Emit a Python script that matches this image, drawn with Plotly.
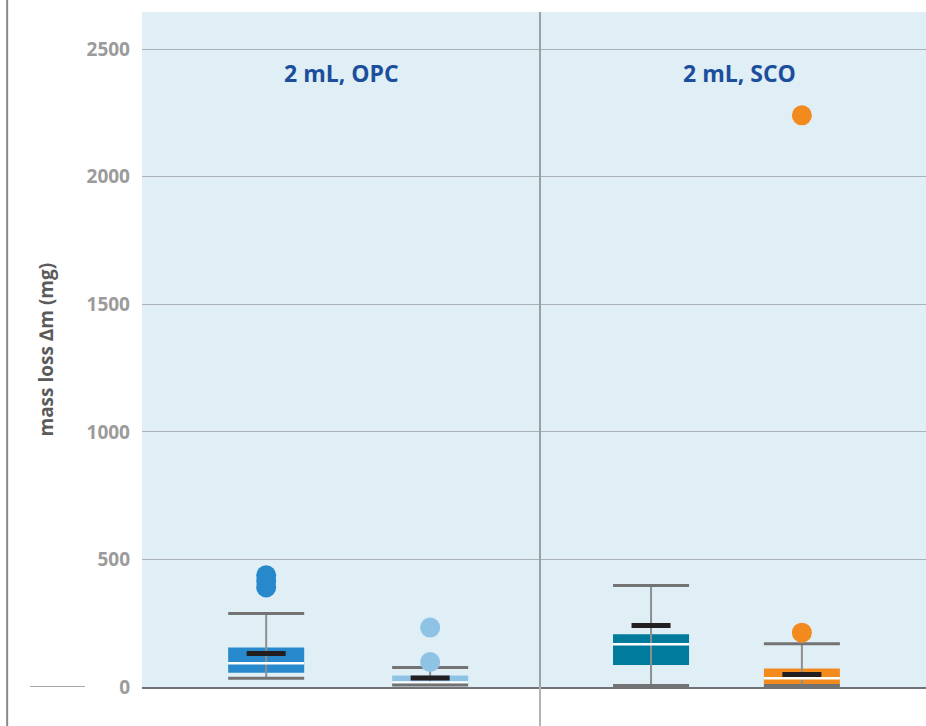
import plotly.graph_objects as go

# Mass loss per sample set, summarised as box statistics (mg)
panels = ["2 mL, OPC", "2 mL, SCO"]
series = ["OPC A", "OPC B", "SCO A", "SCO B"]
lower_whisker = [34, 8, 6, 6]
q1 = [56, 9, 86, 12]
median = [93, 18, 168, 34]
q3 = [155, 45, 207, 73]
upper_whisker = [288, 76, 398, 170]
mean = [131, 35, 241, 49]
outliers = [[438, 416, 390], [233, 98], [], [213, 2241]]

y_ticks = [0, 500, 1000, 1500, 2000, 2500]

# Layout constants (x measured in panel widths)
slot = [0.312, 0.724, 1.279, 1.658]
colors = ["#2789cc", "#8ec3e6", "#017b9b", "#f28a1e"]
box_w = 0.191
mean_w = 0.098

fig = go.Figure()

# Whisker stems
for i in range(len(series)):
    fig.add_trace(go.Scatter(
        x=[slot[i], slot[i]], y=[lower_whisker[i], upper_whisker[i]],
        mode="lines", line=dict(color="#8e8e8e", width=2),
        hoverinfo="skip", showlegend=False))

# Boxes (q1..q3)
fig.add_trace(go.Bar(
    x=slot, base=q1, y=[b - a for a, b in zip(q1, q3)],
    width=box_w, marker=dict(color=colors, line=dict(width=0)),
    showlegend=False, hoverinfo="skip"))

for i in range(len(series)):
    half = box_w / 2
    # median drawn as a gap in the box
    fig.add_trace(go.Scatter(
        x=[slot[i] - half, slot[i] + half], y=[median[i], median[i]],
        mode="lines", line=dict(color="#ffffff", width=2.5),
        hoverinfo="skip", showlegend=False))
    # whisker caps
    for v in (lower_whisker[i], upper_whisker[i]):
        fig.add_trace(go.Scatter(
            x=[slot[i] - half, slot[i] + half], y=[v, v],
            mode="lines", line=dict(color="#737373", width=3),
            hoverinfo="skip", showlegend=False))
    # mean bar
    fig.add_trace(go.Scatter(
        x=[slot[i] - mean_w / 2, slot[i] + mean_w / 2], y=[mean[i], mean[i]],
        mode="lines", line=dict(color="#231f20", width=5),
        hoverinfo="skip", showlegend=False))
    # outliers
    if outliers[i]:
        fig.add_trace(go.Scatter(
            x=[slot[i]] * len(outliers[i]), y=outliers[i],
            mode="markers", marker=dict(color=colors[i], size=20, line=dict(width=0)),
            name=series[i], showlegend=False))

# Panel titles
for k, title in enumerate(panels):
    fig.add_annotation(
        x=k + 0.5, y=2406, xref="x", yref="y", text=title, showarrow=False,
        font=dict(family="Open Sans", size=23, color="#1b4f9c", weight=700))

# Y axis title
fig.add_annotation(
    x=-0.1237, y=0.5, xref="paper", yref="paper", text="mass loss ∆m (mg)",
    textangle=-90, showarrow=False, xanchor="center", yanchor="middle",
    font=dict(family="Open Sans", size=19, color="#5a5a5a", weight=700))

# Panel separator, frame line and zero marker
fig.add_shape(type="line", xref="x", yref="paper", x0=1, x1=1, y0=0, y1=1,
              line=dict(color="#9aa0a6", width=2))
fig.add_shape(type="line", xref="x", yref="paper", x0=1, x1=1, y0=-0.07, y1=0,
              line=dict(color="#b3b3b3", width=2))
fig.add_shape(type="line", xref="paper", yref="paper", x0=-0.172, x1=-0.172,
              y0=-0.07, y1=1.03, line=dict(color="#8a8a8a", width=2))
fig.add_shape(type="line", xref="paper", yref="y", x0=-0.1429, x1=-0.0727,
              y0=0, y1=0, line=dict(color="#8a8a8a", width=1.5))

fig.update_layout(
    width=926, height=726,
    margin=dict(l=142, r=0, t=12, b=39),
    paper_bgcolor="#ffffff", plot_bgcolor="#e0eef6",
    barmode="overlay", showlegend=False,
    xaxis=dict(range=[0, 784 / 398], showgrid=False, zeroline=False,
               showticklabels=False, ticks="", showline=True,
               linecolor="#707478", linewidth=2, fixedrange=True),
    yaxis=dict(range=[0, 2646], tickvals=y_ticks,
               ticktext=[str(t) for t in y_ticks],
               showgrid=True, gridcolor="#a9b0b6", gridwidth=1.2,
               zeroline=False, showline=False, ticks="",
               ticklabelstandoff=11,
               tickfont=dict(family="Open Sans", size=19, color="#9b9b9b", weight=700),
               fixedrange=True),
)

fig.write_html("out.html")
